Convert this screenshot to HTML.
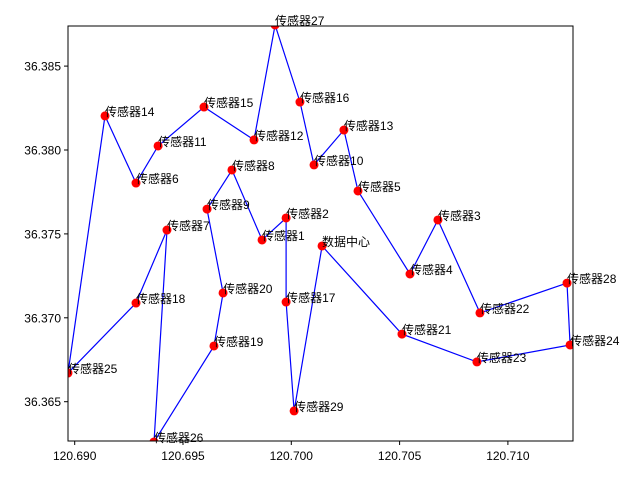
<!DOCTYPE html>
<html><head><meta charset="utf-8">
<style>
body{margin:0;background:#fff;}
svg{display:block;font-family:"Liberation Sans","Noto Sans CJK SC",sans-serif;}
</style></head>
<body>
<svg id="chart" width="640" height="480"></svg>
<script>
const names=["数据中心","传感器1","传感器2","传感器3","传感器4","传感器5","传感器6","传感器7","传感器8","传感器9","传感器10","传感器11","传感器12","传感器13","传感器14","传感器15","传感器16","传感器17","传感器18","传感器19","传感器20","传感器21","传感器22","传感器23","传感器24","传感器25","传感器26","传感器27","传感器28","传感器29"];
const lons=[120.70142,120.69865,120.69976,120.70677,120.70548,120.70308,120.69283,120.69426,120.69726,120.69611,120.70105,120.69385,120.69828,120.70243,120.69140,120.69597,120.70040,120.69976,120.69283,120.69643,120.69685,120.70511,120.70871,120.70857,120.71287,120.68969,120.69366,120.69925,120.71273,120.70013];
const lats=[36.37428,36.37464,36.37595,36.37583,36.37261,36.37756,36.37803,36.37523,36.37881,36.37648,36.37911,36.38024,36.38060,36.38119,36.38203,36.38256,36.38286,36.37094,36.37088,36.36832,36.37148,36.36903,36.37029,36.36737,36.36838,36.36671,36.36260,36.38745,36.37207,36.36445];
const route=[0,29,17,2,1,8,9,20,19,26,7,18,25,14,6,11,15,12,27,16,10,13,5,4,3,22,28,24,23,21,0];
const xTicks=[120.690,120.695,120.700,120.705,120.710];
const yTicks=[36.365,36.370,36.375,36.380,36.385];

const L=68,R=573,T=26,B=441;
const x0=120.69,xs=108.3/0.005, y0=36.365, ys=83.9/0.005;
const X=v=>74.7+(v-x0)*xs;
const Y=v=>401.7-(v-y0)*ys;
const NS="http://www.w3.org/2000/svg";
const svg=document.getElementById('chart');
function mk(t,a){const e=document.createElementNS(NS,t);for(const k in a)e.setAttribute(k,a[k]);svg.appendChild(e);return e;}

const clip=mk('clipPath',{id:'pc'});
const cr=document.createElementNS(NS,'rect');cr.setAttribute('x',L);cr.setAttribute('y',T);cr.setAttribute('width',R-L);cr.setAttribute('height',B-T);clip.appendChild(cr);

const g=mk('g',{'clip-path':'url(#pc)'});


function gm(t,a){const e=document.createElementNS(NS,t);for(const k in a)e.setAttribute(k,a[k]);g.appendChild(e);return e;}

const pts=route.map(i=>X(lons[i]).toFixed(1)+','+Y(lats[i]).toFixed(1)).join(' ');
const line=gm('polyline',{points:pts,fill:'none',stroke:'#0000ff','stroke-width':1.2});



for(let i=0;i<names.length;i++){
  const c=gm('circle',{cx:X(lons[i]),cy:Y(lats[i]),r:4.5,fill:'#ff0000'});
  
  
}
for(let i=0;i<names.length;i++){
  const t=mk('text',{x:X(lons[i]),y:Y(lats[i]),'font-size':12,fill:'#000'});
  t.textContent=names[i];
  
  
}

const frame=mk('rect',{x:L,y:T,width:R-L,height:B-T,fill:'none',stroke:'#000','stroke-width':1});



xTicks.forEach(v=>{
  const px=X(v);
  const tk=mk('line',{x1:px,x2:px,y1:B,y2:B+4,stroke:'#000'});
  
  
  const t=mk('text',{x:px,y:B+19,'font-size':12,'text-anchor':'middle',fill:'#000'});
  t.textContent=v.toFixed(3);
  
  
});
yTicks.forEach(v=>{
  const py=Y(v);
  const tk=mk('line',{x1:L-4,x2:L,y1:py,y2:py,stroke:'#000'});
  
  
  const t=mk('text',{x:L-7,y:py+4.5,'font-size':12,'text-anchor':'end',fill:'#000'});
  t.textContent=v.toFixed(3);
  
  
});
</script>
</body></html>
